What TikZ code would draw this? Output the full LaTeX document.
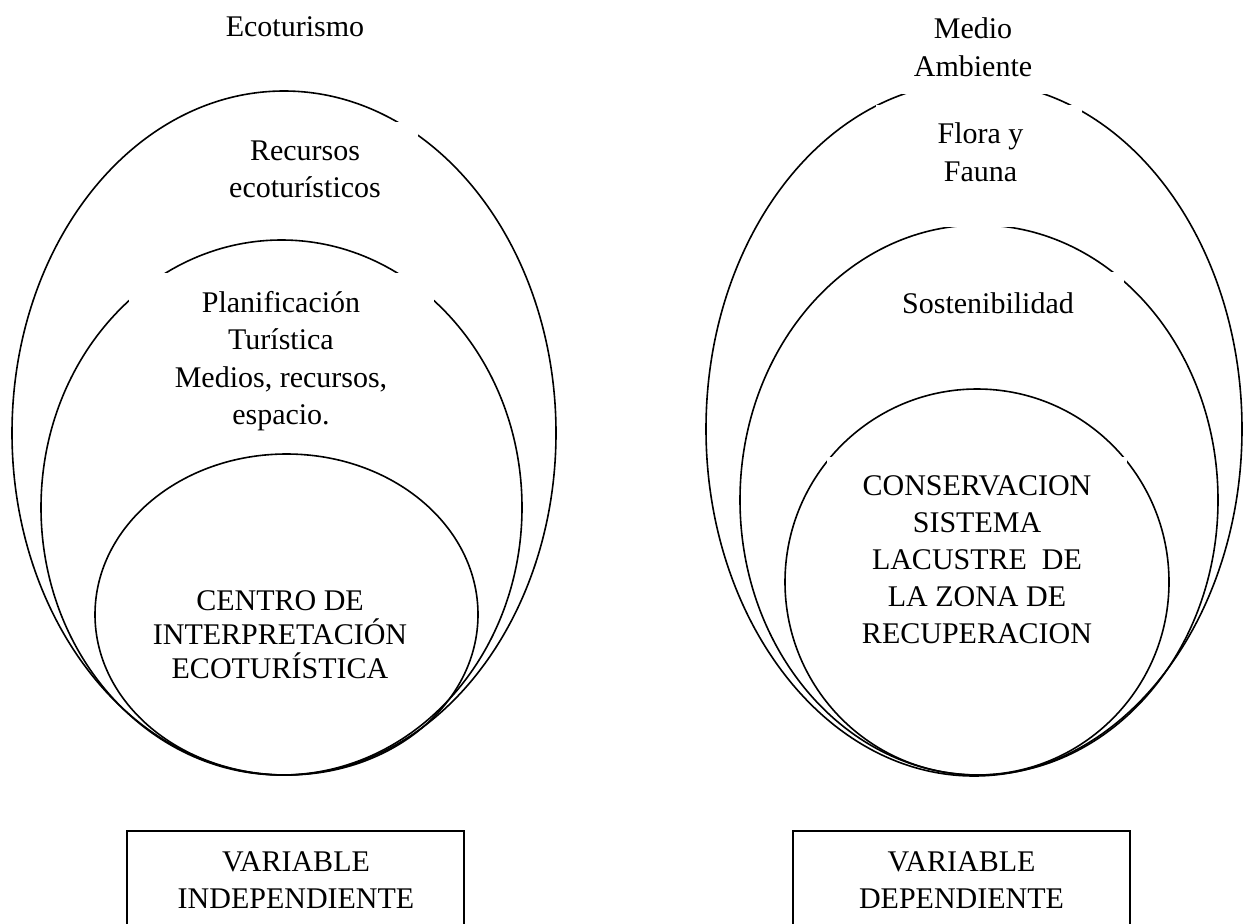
\documentclass[tikz,border=0pt]{standalone}
\usepackage{fontspec}
\setmainfont{Liberation Serif}
\begin{document}
\begin{tikzpicture}[x=1pt,y=-1pt,
  ring/.style={line width=1.6pt},
  mask/.style={fill=white},
  lbl/.style={inner sep=0pt, align=center, font=\fontsize{30}{37}\selectfont},
  varbox/.style={draw, line width=1.6pt}]
\useasboundingbox[fill=white] (0,0) rectangle (1243,924);

% ---------- left diagram ----------
\draw[ring] (284,433) ellipse [x radius=272pt, y radius=342pt];
\draw[ring] (281.5,507.5) ellipse [x radius=240.5pt, y radius=267.5pt];
\draw[ring] (286.5,614.5) ellipse [x radius=191.5pt, y radius=160.5pt];
\fill[mask] (194,122) rectangle (418,215);
\fill[mask] (129,273) rectangle (434,445);

\node[lbl] (eco) at (295,26.5) {Ecoturismo};
\node[lbl] (rec) at (305,169.5) {Recursos\\ecoturísticos};
\node[lbl, font=\fontsize{30}{37.5}\selectfont] (plan) at (281,361) {Planificación\\Turística\\Medios, recursos,\\espacio.};
\node[lbl, font=\fontsize{30}{34}\selectfont] (centro) at (280,635) {CENTRO DE\\INTERPRETACIÓN\\ECOTURÍSTICA};

\draw[varbox] (127,831) rectangle (464,960);
\node[lbl] (vi) at (296,880) {VARIABLE\\INDEPENDIENTE};

% ---------- right diagram ----------
\draw[ring] (974,429) ellipse [x radius=268pt, y radius=347pt];
\draw[ring] (979,500) ellipse [x radius=239pt, y radius=275pt];
\draw[ring] (977,582) ellipse [x radius=192pt, y radius=193pt];
\fill[mask] (902,0) rectangle (1047,94);
\fill[mask] (876,105) rectangle (1082,227);
\fill[mask] (853,272) rectangle (1124,340);
\fill[mask] (827,457) rectangle (1127,697);

\node[lbl, font=\fontsize{30}{38}\selectfont] (medio) at (973,47) {Medio\\Ambiente};
\node[lbl, font=\fontsize{30}{38}\selectfont] (flora) at (980.5,152) {Flora y\\Fauna};
\node[lbl] (sost) at (988,303.5) {Sostenibilidad};
\node[lbl] (cons) at (977,559.5) {CONSERVACION\\SISTEMA\\LACUSTRE\ \ DE\\LA ZONA DE\\RECUPERACION};

\draw[varbox] (793,831) rectangle (1130,960);
\node[lbl] (vd) at (961.5,880) {VARIABLE\\DEPENDIENTE};
\end{tikzpicture}
\end{document}
